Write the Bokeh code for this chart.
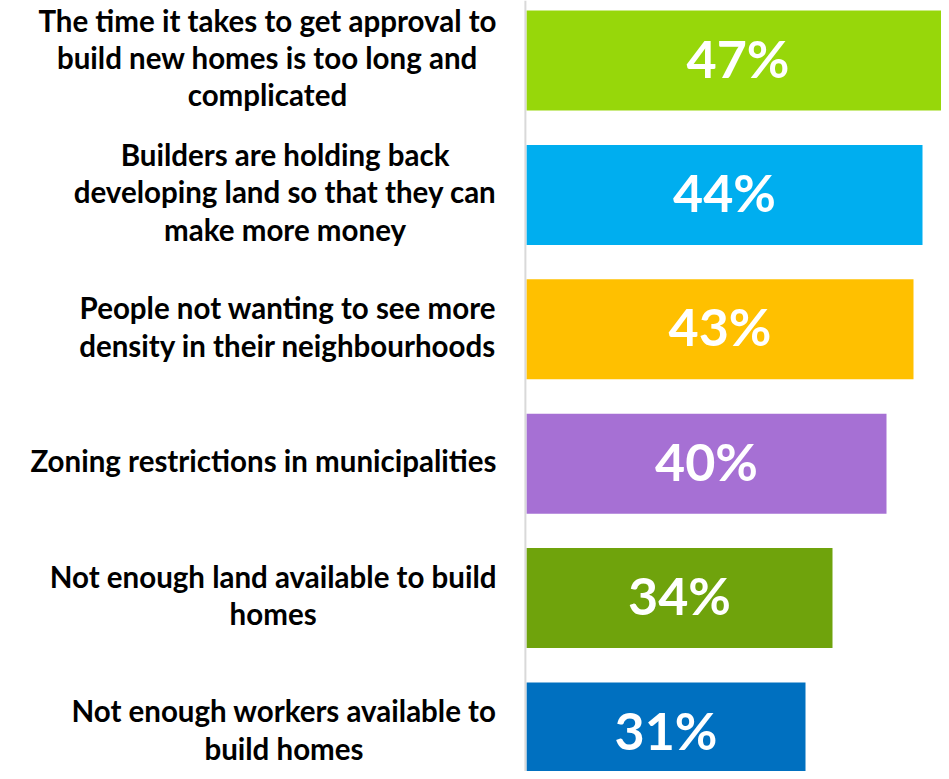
from bokeh.plotting import figure
from bokeh.models import Range1d, ColumnDataSource, Span
from bokeh.core.properties import value
from bokeh.embed import file_html
from bokeh.resources import INLINE

labels = [
    "The time it takes to get approval to\nbuild new homes is too long and\ncomplicated",
    "Builders are holding back\ndeveloping land so that they can\nmake more money",
    "People not wanting to see more\ndensity in their neighbourhoods",
    "Zoning restrictions in municipalities",
    "Not enough land available to build\nhomes",
    "Not enough workers available to\nbuild homes",
]
values = [47, 44, 43, 40, 34, 31]
colors = ["#97D70A", "#00AEEF", "#FFC000", "#A670D4", "#6FA30C", "#0070C0"]

idx = list(range(len(values)))
src = ColumnDataSource(dict(
    y=idx, v=values, mid=[v / 2 for v in values], c=colors, lab=labels,
    pct=[f"{v}%" for v in values], zero=[0] * len(values),
))

W, H = 941, 771
px_per_unit = 9.0
bar_start_px = 526
pitch = 134.4
first_center = 60

p = figure(width=W, height=H, output_backend="svg", toolbar_location=None,
           x_range=Range1d(-bar_start_px / px_per_unit, (W - bar_start_px) / px_per_unit),
           y_range=Range1d((H - first_center) / pitch, -first_center / pitch),
           x_axis_type=None, y_axis_type=None, min_border=0)
p.grid.visible = False
p.outline_line_color = None
p.background_fill_color = "white"

p.hbar(y="y", left=0, right="v", height=100 / pitch, fill_color="c", line_color=None, source=src)

p.add_layout(Span(location=-1.1 / px_per_unit, dimension="height", line_color="#D9D9D9", line_width=2))

p.text(x="zero", y="y", text="lab", source=src, x_offset=-30, y_offset=-3,
       text_align="center", text_baseline="middle", anchor=value("center_right"),
       text_font=value("Lato"), text_font_style="bold", text_font_size="29.5px",
       text_line_height=1.07, text_color="#000000")

p.text(x="mid", y="y", text="pct", source=src, y_offset=-3,
       text_align="center", text_baseline="middle",
       text_font=value("Lato"), text_font_style="bold", text_font_size="52px",
       text_color="#FFFFFF")

open("out.html", "w").write(file_html(p, INLINE))
